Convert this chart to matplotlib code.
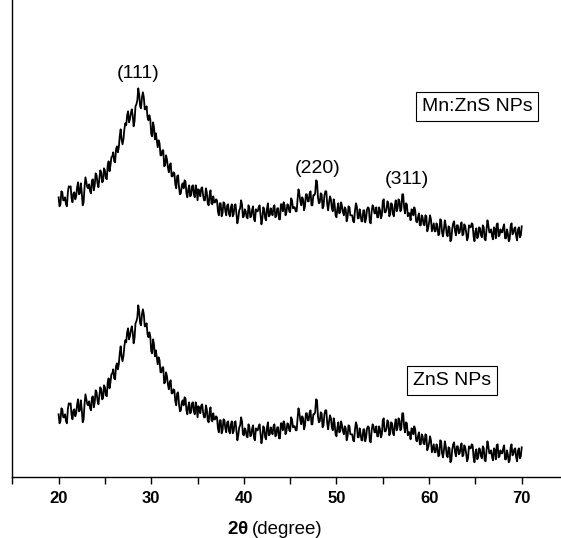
import numpy as np
import matplotlib
matplotlib.use('Agg')
import matplotlib.pyplot as plt

plt.rcParams['font.family'] = ['Liberation Sans', 'DejaVu Sans']

# 2theta grid, 20..70 deg in 0.1 deg steps
two_theta = np.linspace(20, 70, 501)

# intensities (arb. units)
mnzns = [
    280, 271, 273, 286, 285, 277, 277, 280, 273, 271,
    285, 291, 290, 291, 279, 275, 284, 285, 278, 281,
    290, 295, 283, 284, 294, 285, 272, 275, 290, 300,
    295, 290, 289, 293, 286, 284, 297, 298, 287, 292,
    304, 302, 294, 290, 299, 307, 305, 295, 296, 309,
    307, 299, 298, 312, 316, 306, 312, 320, 321, 325,
    316, 315, 328, 331, 325, 330, 341, 348, 338, 333,
    338, 348, 354, 352, 362, 366, 355, 358, 364, 368,
    362, 351, 356, 371, 373, 377, 389, 383, 371, 369,
    380, 385, 380, 368, 368, 371, 360, 357, 362, 358,
    343, 341, 355, 350, 338, 344, 337, 330, 337, 334,
    322, 322, 327, 327, 311, 312, 322, 318, 310, 305,
    312, 314, 301, 301, 305, 304, 293, 289, 301, 302,
    290, 283, 284, 292, 294, 289, 297, 296, 284, 280,
    288, 292, 281, 282, 291, 292, 283, 280, 292, 288,
    277, 288, 286, 281, 289, 290, 282, 277, 277, 289,
    285, 274, 272, 282, 287, 274, 273, 281, 275, 275,
    278, 277, 266, 262, 274, 274, 261, 264, 275, 274,
    266, 262, 272, 273, 263, 261, 270, 273, 261, 263,
    272, 273, 264, 254, 259, 267, 269, 277, 273, 260,
    261, 268, 266, 260, 259, 272, 269, 260, 261, 268,
    271, 258, 256, 268, 266, 266, 270, 272, 263, 253,
    259, 270, 268, 259, 257, 269, 274, 261, 262, 269,
    265, 262, 270, 272, 260, 261, 269, 269, 258, 258,
    273, 273, 266, 275, 272, 262, 265, 273, 272, 266,
    265, 279, 277, 269, 270, 270, 266, 266, 278, 288,
    283, 276, 272, 280, 278, 267, 271, 283, 283, 276,
    276, 284, 286, 272, 272, 282, 282, 284, 297, 296,
    280, 274, 275, 284, 283, 269, 271, 282, 286, 286,
    273, 267, 275, 281, 278, 269, 266, 278, 273, 262,
    260, 269, 274, 264, 265, 275, 271, 265, 262, 270,
    268, 256, 260, 271, 270, 262, 262, 262, 256, 255,
    267, 274, 271, 259, 259, 268, 263, 256, 256, 267,
    267, 255, 259, 268, 270, 269, 255, 254, 266, 272,
    270, 264, 264, 270, 260, 260, 270, 267, 259, 262,
    276, 278, 265, 265, 268, 276, 274, 261, 263, 274,
    273, 263, 261, 272, 277, 266, 269, 278, 276, 266,
    268, 283, 283, 270, 264, 274, 273, 261, 264, 264,
    257, 268, 267, 262, 270, 267, 256, 255, 260, 264,
    252, 252, 262, 260, 253, 252, 262, 261, 246, 249,
    255, 262, 258, 246, 250, 254, 246, 246, 254, 251,
    242, 243, 258, 257, 245, 241, 248, 257, 252, 243,
    241, 251, 250, 236, 238, 249, 254, 256, 246, 242,
    252, 252, 244, 245, 251, 255, 242, 243, 253, 251,
    245, 237, 240, 252, 250, 250, 254, 253, 241, 236,
    246, 249, 239, 241, 250, 249, 242, 240, 252, 250,
    238, 237, 248, 257, 252, 245, 245, 248, 241, 238,
    250, 248, 239, 253, 254, 241, 242, 248, 245, 245,
    250, 253, 239, 239, 248, 244, 236, 238, 251, 254,
    243, 244, 249, 250, 241, 237, 248, 250, 240, 242,
    251,
]

zns = [
    63, 54, 56, 69, 68, 60, 60, 63, 56, 54,
    68, 74, 73, 74, 62, 58, 67, 68, 61, 64,
    73, 78, 66, 67, 77, 68, 55, 58, 73, 83,
    78, 73, 72, 76, 69, 67, 80, 81, 70, 75,
    87, 85, 77, 73, 82, 90, 88, 78, 79, 92,
    90, 82, 81, 95, 99, 89, 95, 103, 104, 108,
    99, 98, 111, 114, 108, 113, 124, 131, 121, 116,
    121, 131, 137, 135, 145, 149, 138, 141, 147, 151,
    145, 134, 139, 154, 156, 160, 172, 166, 154, 152,
    163, 168, 163, 151, 151, 154, 143, 140, 145, 141,
    126, 124, 138, 133, 121, 127, 120, 113, 120, 117,
    105, 105, 110, 110, 94, 95, 105, 101, 93, 88,
    95, 97, 84, 84, 88, 87, 76, 72, 84, 85,
    73, 66, 67, 75, 77, 72, 80, 79, 67, 63,
    71, 75, 64, 65, 74, 75, 66, 63, 75, 71,
    60, 71, 69, 64, 72, 73, 65, 60, 60, 72,
    68, 57, 55, 65, 70, 57, 56, 64, 58, 58,
    61, 60, 49, 45, 57, 57, 44, 47, 58, 57,
    49, 45, 55, 56, 46, 44, 53, 56, 44, 46,
    55, 56, 47, 37, 42, 50, 52, 60, 56, 43,
    42, 49, 47, 41, 40, 53, 50, 41, 42, 49,
    52, 39, 37, 49, 47, 47, 51, 53, 44, 34,
    40, 51, 49, 40, 38, 50, 55, 42, 43, 50,
    46, 43, 51, 53, 41, 42, 50, 50, 39, 39,
    54, 54, 47, 56, 53, 43, 46, 54, 53, 47,
    46, 60, 58, 50, 51, 51, 47, 47, 59, 69,
    64, 57, 53, 61, 59, 48, 52, 64, 64, 57,
    57, 65, 67, 53, 53, 63, 63, 65, 78, 77,
    61, 55, 56, 65, 64, 50, 52, 63, 67, 67,
    54, 48, 56, 62, 59, 50, 47, 59, 54, 43,
    41, 50, 55, 45, 46, 56, 52, 46, 43, 51,
    49, 37, 41, 52, 51, 43, 43, 43, 37, 36,
    48, 55, 52, 40, 40, 49, 44, 37, 37, 48,
    48, 36, 40, 49, 51, 50, 36, 35, 47, 53,
    51, 45, 45, 51, 41, 41, 51, 48, 40, 43,
    57, 59, 46, 46, 49, 57, 55, 42, 44, 55,
    54, 44, 42, 53, 58, 47, 50, 59, 57, 47,
    49, 64, 64, 51, 45, 55, 54, 42, 45, 45,
    38, 49, 48, 43, 51, 48, 37, 36, 41, 45,
    33, 33, 43, 41, 34, 33, 43, 42, 27, 30,
    34, 41, 37, 25, 29, 33, 25, 25, 33, 30,
    21, 22, 37, 36, 24, 20, 27, 36, 31, 22,
    20, 30, 29, 15, 17, 28, 33, 35, 25, 21,
    31, 31, 23, 24, 30, 34, 21, 22, 32, 30,
    24, 16, 19, 31, 29, 29, 33, 32, 20, 15,
    25, 28, 18, 20, 29, 28, 21, 19, 31, 29,
    17, 16, 27, 36, 31, 24, 24, 27, 20, 17,
    29, 27, 18, 32, 33, 20, 21, 27, 24, 24,
    29, 32, 18, 18, 27, 23, 15, 17, 30, 33,
    22, 23, 28, 29, 20, 16, 27, 29, 19, 21,
    30,
]

peak_labels = ['(111)', '(220)', '(311)']
peak_pos = [28.6, 48.0, 57.6]
peak_y = [404, 309, 298]

fig = plt.figure(figsize=(5.61, 5.38), dpi=100)
ax = fig.add_axes([0.0219, 0.1128, 0.9781, 0.8872])

ax.plot(two_theta, mnzns, color='black', lw=1.3)
ax.plot(two_theta, zns, color='black', lw=1.3)

for lab, px, py in zip(peak_labels, peak_pos, peak_y):
    ax.text(px, py, lab, ha='center', va='center', fontsize=14)

box = dict(boxstyle='square,pad=0.3', fc='white', ec='black', lw=0.8)
ax.text(65.2, 371, 'Mn:ZnS NPs', ha='center', va='center', fontsize=14, bbox=box)
ax.text(62.5, 97, 'ZnS NPs', ha='center', va='center', fontsize=14, bbox=box)

ax.set_xlim(15, 74.24)
ax.set_ylim(0, 477.3)
ax.set_xticks([20, 30, 40, 50, 60, 70])
ax.set_xticks([15, 25, 35, 45, 55, 65], minor=True)
ax.set_yticks([])
ax.tick_params(axis='x', which='both', direction='out', length=5, width=1, pad=5)
for t in ax.get_xticklabels():
    t.set_fontweight('bold')
    t.set_fontsize(12)
ax.spines['top'].set_visible(False)
ax.spines['right'].set_visible(False)
ax.spines['left'].set_linewidth(1)
ax.spines['bottom'].set_linewidth(1)

ylab = 1 - 530 / 538
fig.text(227 / 561, ylab, '2', ha='left', va='center', fontsize=13.5, fontweight='bold')
fig.text(237 / 561, ylab, '\u03b8', ha='left', va='center', fontsize=13.5, fontweight='bold')
fig.text(252 / 561, ylab, '(degree)', ha='left', va='center', fontsize=13.5)

fig.savefig('out.png', dpi=100)
